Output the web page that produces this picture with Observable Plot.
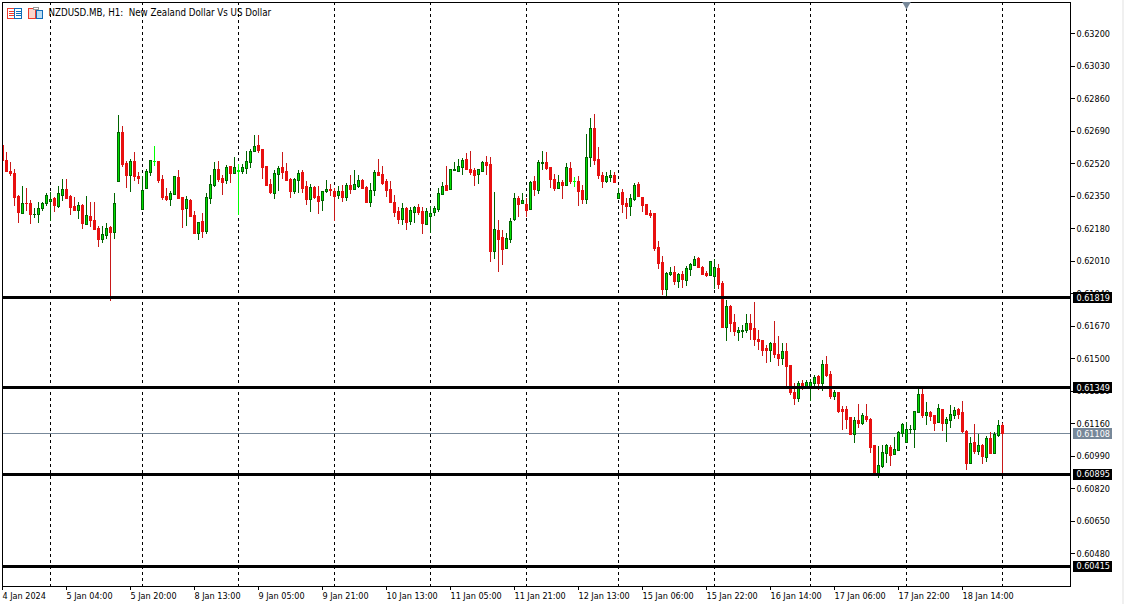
<!DOCTYPE html>
<html><head><meta charset="utf-8">
<script src="https://cdn.jsdelivr.net/npm/d3@7"></script>
<script src="https://cdn.jsdelivr.net/npm/@observablehq/plot@0.6"></script>
<style>
html,body{margin:0;padding:0;background:#fff;overflow:hidden}
#chart{position:relative;width:1124px;height:604px}
#chart svg.plot{display:block;position:absolute;left:0;top:0}
#icons{position:absolute;left:0;top:0}
#edge{position:absolute;left:1122px;top:0;width:2px;height:604px;background:#f0f0f0}
</style></head><body>
<div id="chart"></div>
<script>
// Prices in 1e-5 units, one entry per H1 bar
const open = [62617,62538,62481,62468,62350,62261,62313,62313,62252,62252,
62285,62312,62322,62339,62298,62355,62387,62350,62298,62277,
62303,62203,62245,62224,62183,62125,62146,62188,62162,62428,
62685,62523,62460,62533,62455,62282,62392,62475,62533,62533,
62439,62350,62334,62360,62449,62345,62287,62329,62251,62156,
62219,62167,62339,62407,62491,62444,62434,62507,62470,62486,
62481,62496,62528,62585,62617,62596,62507,62413,62366,62465,
62502,62481,62439,62376,62434,62475,62402,62334,62397,62350,
62329,62376,62387,62376,62355,62376,62345,62407,62387,62402,
62434,62397,62319,62381,62475,62465,62428,62387,62319,62271,
62230,62287,62219,62266,62292,62271,62203,62245,62266,62282,
62360,62407,62387,62486,62481,62502,62543,62491,62486,62465,
62481,62528,62517,62062,62172,62135,62078,62125,62230,62339,
62313,62308,62282,62428,62381,62523,62528,62502,62439,62392,
62423,62407,62496,62428,62428,62381,62334,62554,62706,62543,
62460,62428,62449,62460,62339,62371,62313,62298,62334,62413,
62345,62308,62261,62261,62083,62005,61864,61942,61953,61905,
61942,61911,61968,61989,62026,61979,61947,61937,61932,61974,
61895,61665,61775,61691,61639,61644,61649,61686,61660,61602,
61597,61555,61545,61581,61524,61503,61539,61466,61325,61294,
61372,61356,61356,61372,61409,61372,61471,61419,61304,61325,
61236,61236,61194,61105,61179,61163,61200,61184,61048,60901,
60938,61006,61037,61001,61022,61111,61064,61128,61132,61220,
61315,61205,61220,61205,61168,61236,61163,61179,61205,61236,
61220,61121,60954,61064,61016,61048,60985,61084,61006,61100,
61153];
const close = [62538,62477,62467,62341,62263,62312,62310,62252,62256,62285,
62313,62355,62334,62303,62366,62387,62339,62292,62277,62303,
62209,62251,62224,62177,62125,62151,62183,62162,62313,62685,
62517,62460,62533,62455,62444,62381,62481,62538,62530,62434,
62345,62334,62366,62455,62339,62282,62334,62245,62156,62214,
62167,62345,62413,62491,62439,62423,62502,62470,62502,62482,
62502,62533,62585,62611,62590,62502,62407,62371,62470,62496,
62475,62434,62376,62439,62470,62392,62334,62397,62345,62324,
62376,62387,62381,62350,62376,62345,62407,62387,62413,62434,
62392,62319,62381,62475,62460,62418,62381,62319,62266,62230,
62287,62214,62277,62292,62266,62209,62271,62261,62287,62366,
62402,62381,62491,62491,62507,62538,62491,62475,62460,62491,
62528,62512,62062,62177,62125,62073,62130,62219,62339,62308,
62329,62277,62423,62387,62528,62528,62496,62439,62392,62423,
62407,62502,62428,62425,62376,62334,62554,62706,62538,62460,
62428,62455,62460,62423,62366,62308,62298,62339,62407,62350,
62303,62256,62251,62078,61999,61864,61947,61953,61905,61942,
61916,61973,61994,62020,61979,61942,61937,62010,61979,61890,
61665,61775,61686,61644,61649,61649,61686,61655,61602,61592,
61545,61545,61581,61524,61503,61539,61461,61325,61294,61372,
61356,61377,61377,61403,61372,61471,61414,61304,61325,61226,
61226,61184,61105,61179,61163,61205,61184,61037,60907,60943,
61011,61048,60995,61027,61116,61158,61132,61132,61226,61315,
61205,61220,61200,61163,61241,61163,61184,61210,61231,61210,
61121,60954,61058,61016,61048,60990,61084,61006,61105,61153,
61108];
const high = [62617,62580,62528,62489,62355,62402,62392,62329,62287,62319,
62319,62366,62371,62345,62402,62439,62439,62355,62345,62319,
62308,62350,62319,62319,62193,62193,62209,62193,62366,62774,
62716,62533,62543,62580,62475,62455,62491,62538,62611,62533,
62460,62392,62376,62455,62486,62345,62350,62334,62271,62214,
62261,62366,62460,62528,62533,62460,62512,62507,62554,62517,
62517,62585,62596,62669,62669,62596,62507,62439,62486,62507,
62580,62523,62444,62444,62486,62486,62428,62413,62402,62402,
62376,62434,62413,62392,62402,62407,62418,62460,62486,62460,
62439,62402,62418,62486,62543,62507,62439,62428,62355,62292,
62313,62292,62292,62298,62308,62292,62287,62298,62298,62392,
62423,62507,62491,62528,62543,62549,62575,62585,62496,62491,
62533,62559,62554,62371,62224,62172,62156,62235,62366,62350,
62366,62339,62428,62455,62538,62585,62580,62502,62465,62460,
62434,62523,62528,62449,62455,62407,62674,62758,62779,62606,
62475,62475,62486,62475,62392,62387,62339,62360,62418,62423,
62345,62308,62277,62261,62115,62036,61953,61979,61984,61947,
61958,61984,61999,62036,62031,61984,61958,62010,62020,61994,
61906,61806,61780,61733,61665,61675,61733,61733,61796,61649,
61597,61571,61587,61696,61618,61581,61581,61466,61372,61383,
61388,61388,61393,61414,61414,61492,61513,61435,61335,61325,
61252,61252,61194,61194,61262,61215,61262,61189,61048,61043,
61048,61053,61048,61090,61121,61163,61168,61152,61226,61341,
61341,61273,61226,61205,61262,61236,61194,61257,61247,61241,
61278,61126,61090,61158,61105,61053,61095,61116,61116,61179,
61163];
const low = [62530,62472,62455,62294,62209,62256,62271,62203,62235,62209,
62271,62298,62219,62266,62287,62324,62334,62251,62271,62230,
62177,62198,62188,62172,62083,62104,62125,61801,62125,62426,
62502,62392,62371,62428,62413,62277,62387,62455,62507,62418,
62329,62324,62298,62355,62337,62183,62193,62240,62151,62120,
62130,62151,62308,62397,62423,62355,62413,62418,62465,62251,
62465,62465,62496,62583,62575,62439,62402,62360,62334,62376,
62439,62428,62339,62360,62366,62366,62303,62266,62334,62256,
62271,62366,62350,62219,62334,62319,62324,62360,62385,62392,
62390,62313,62292,62350,62455,62407,62345,62313,62240,62203,
62198,62172,62198,62209,62251,62151,62198,62156,62245,62266,
62355,62376,62381,62481,62475,62460,62486,62460,62402,62413,
62479,62460,62005,62020,61953,61989,62073,62104,62219,62240,
62308,62240,62277,62350,62360,62486,62486,62392,62376,62390,
62334,62405,62413,62397,62298,62308,62308,62502,62512,62439,
62392,62418,62423,62418,62337,62261,62230,62245,62324,62345,
62266,62254,62235,62062,61968,61832,61823,61932,61884,61869,
61869,61879,61932,61984,61973,61940,61926,61935,61864,61864,
61663,61592,61639,61618,61592,61607,61634,61597,61566,61545,
61513,61477,61482,61503,61461,61466,61356,61309,61257,61273,
61335,61351,61278,61356,61335,61330,61403,61288,61283,61215,
61126,61132,61103,61058,61137,61152,61168,61006,60901,60875,
60928,60954,60938,60999,61016,61090,61058,61105,61032,61215,
61189,61152,61173,61121,61163,61121,61064,61137,61184,61184,
61111,60917,60948,60999,60995,60948,60959,61004,61004,61090,
60900];
const dojiBars = [38, 59, 143];
const daySeparators = [12, 35, 59, 83, 107, 131, 154, 178, 202, 226, 250];
const labelBars = [0, 16, 32, 48, 64, 80, 96, 112, 128, 144, 160, 176, 192, 208, 224, 240];
const xLabels = ["4 Jan 2024","5 Jan 04:00","5 Jan 20:00","8 Jan 13:00","9 Jan 05:00","9 Jan 21:00","10 Jan 13:00","11 Jan 05:00","11 Jan 21:00","12 Jan 13:00","15 Jan 06:00","15 Jan 22:00","16 Jan 14:00","17 Jan 06:00","17 Jan 22:00","18 Jan 14:00"];
const yTicks = [0.632,0.6303,0.6286,0.6269,0.6252,0.6235,0.6218,0.6201,0.6184,0.6167,0.615,0.6133,0.6116,0.6099,0.6082,0.6065,0.6048];
const levels = [0.61819, 0.61349, 0.60895, 0.60415];
const lastPrice = [0.61108];
const title = "NZDUSD.MB, H1:  New Zealand Dollar Vs US Dollar";

const FONT = '"DejaVu Sans Condensed", "DejaVu Sans", sans-serif';
const fmt = d3.format(".5f");
const bars = open.map((o, i) => ({i, o: o/1e5, c: close[i]/1e5, h: high[i]/1e5, l: low[i]/1e5,
  doji: dojiBars.includes(i), up: close[i] >= o}));
const isDoji = d => d.doji, isUp = d => !d.doji && d.up, isDown = d => !d.doji && !d.up;
const crisp = {shapeRendering: "crispEdges"};
const barW = 0.25, boxA = 267.625, boxB = 277.5, textX = 268.5;
const wick = (f, stroke) => Plot.ruleX(bars, {filter: f, x: "i", y1: "l", y2: "h", stroke, strokeWidth: 1, clip: true, ...crisp});
const body = (f, fill, stroke) => Plot.rect(bars, {filter: f, x1: d => d.i - barW, x2: d => d.i + barW, y1: "o", y2: "c",
  fill, stroke, strokeWidth: 1, dx: 0.5, dy: 0.5, clip: true, ...crisp});

const plot = Plot.plot({
  width: 1124, height: 604,
  marginLeft: 2, marginRight: 54, marginTop: 2, marginBottom: 18,
  style: {fontFamily: FONT, fontStretch: "condensed", fontSize: "9px", background: "#fff", color: "#000"},
  x: {type: "linear", domain: [0, 267], range: [2, 1070]},
  y: {type: "linear", domain: [0.603087, 0.633635], range: [586, 2]},
  marks: [
    Plot.ruleX(daySeparators, {x: d => d, stroke: "#000", strokeDasharray: "3,3", strokeWidth: 1, ...crisp}),
    Plot.ruleY(lastPrice, {y: d => d, x1: 0, x2: 267, stroke: "#778899", strokeWidth: 1, ...crisp}),
    wick(isUp, "#006400"), wick(isDown, "#c81818"), wick(isDoji, "#00ff00"),
    body(isUp, "#00e000", "#006400"), body(isDown, "#e81010", "#e81010"), body(isDoji, "#00ff00", "#00ff00"),
    Plot.ruleY(levels, {y: d => d, x1: 0, x2: 267, stroke: "#000", strokeWidth: 3, ...crisp}),
    Plot.frame({stroke: "#000", ...crisp}),
    Plot.axisX({anchor: "bottom", ticks: labelBars, tickFormat: v => xLabels[labelBars.indexOf(v)], textAnchor: "start",
      tickSize: 4, tickPadding: 2, label: null, fontSize: 9, ...crisp}),
    Plot.axisY({anchor: "right", ticks: yTicks, tickFormat: fmt, tickSize: 4, tickPadding: 2, label: null, fontSize: 9, ...crisp}),
    Plot.ruleY(levels, {y: d => d, x1: boxA, x2: boxB, stroke: "#000", strokeWidth: 11, ...crisp}),
    Plot.ruleY(lastPrice, {y: d => d, x1: boxA, x2: boxB, stroke: "#778899", strokeWidth: 11, ...crisp}),
    Plot.text([...levels, ...lastPrice], {x: textX, y: d => d, text: fmt, fill: "#fff", textAnchor: "start", fontSize: 9}),
    Plot.dot([226], {x: d => d, frameAnchor: "top", symbol: "triangle", rotate: 180, r: 3.2, fill: "#778899", stroke: "none", dy: 2}),
    Plot.text([title], {text: d => d, frameAnchor: "top-left", dx: 46, dy: 7, textAnchor: "start", fontSize: 9.7, fill: "#000"})
  ]
});
const chart = document.getElementById("chart");
chart.appendChild(plot);
chart.insertAdjacentHTML("beforeend", `<div id="edge"></div><svg id="icons" width="50" height="24" shape-rendering="crispEdges">
<rect x="7.5" y="8.5" width="7" height="10" fill="#fff" stroke="#ef3b2c"/><rect x="14.5" y="8.5" width="7" height="10" fill="#fff" stroke="#0f6cb8"/>
<path d="M9 11.5h5M9 13.5h5M9 15.5h5" stroke="#ef3b2c"/><path d="M16 11.5h5M16 13.5h5M16 15.5h5" stroke="#0f6cb8"/>
<rect x="28.5" y="8.5" width="7" height="10" fill="#fbd5cc" stroke="#ef3b2c"/><rect x="36.5" y="10.5" width="6" height="8" fill="#bcdcf2" stroke="#0f6cb8"/>
<rect x="33.5" y="7.5" width="5" height="2" fill="#fff" stroke="#999"/></svg>`);
</script>
</body></html>
